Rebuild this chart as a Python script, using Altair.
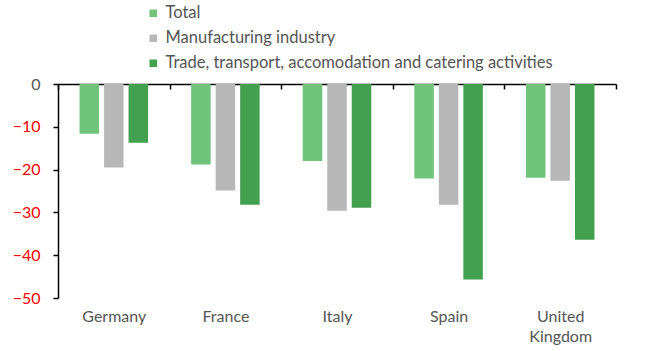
import altair as alt
import pandas as pd

countries = ["Germany", "France", "Italy", "Spain", "United Kingdom"]
series = ["Total", "Manufacturing industry", "Trade, transport, accomodation and catering activities"]
total = [-11.6, -18.8, -18.0, -22.1, -21.9]
manufacturing = [-19.5, -24.9, -29.6, -28.2, -22.6]
trade = [-13.7, -28.2, -28.9, -45.7, -36.4]
colors = ["#70c37b", "#b7b7b7", "#43a04f"]
y_ticks = [0, -10, -20, -30, -40, -50]

rows = []
for i, c in enumerate(countries):
    for s, vals in zip(series, [total, manufacturing, trade]):
        rows.append({"country": c, "series": s, "value": vals[i]})
df = pd.DataFrame(rows)

FONT = "Lato"
PLOT_H = 214

x_enc = alt.X(
    "country:N",
    sort=countries,
    scale=alt.Scale(paddingInner=0, paddingOuter=0),
    title=None,
    axis=alt.Axis(
        orient="bottom", offset=-PLOT_H, tickBand="extent",
        domainColor="#000000", tickColor="#000000", tickSize=5,
        labelAngle=0, labelFont=FONT, labelFontSize=16, labelColor="#555555",
        labelPadding=219, labelLineHeight=20, labelBaseline="top",
        labelExpr="datum.label == 'United Kingdom' ? ['United', 'Kingdom'] : datum.label",
    ),
)

y_enc = alt.Y(
    "value:Q",
    scale=alt.Scale(domain=[-50, 0], nice=False),
    title=None,
    axis=alt.Axis(
        values=y_ticks, grid=False, domainColor="#000000", tickColor="#000000",
        tickSize=5, labelPadding=13, labelFont=FONT, labelFontSize=16,
        labelColor=alt.ExprRef("datum.value == 0 ? '#555555' : '#ff0000'"),
    ),
)

chart = alt.Chart(df).mark_bar().encode(
    x=x_enc,
    xOffset=alt.XOffset("series:N", sort=series,
                        scale=alt.Scale(paddingInner=0.204, paddingOuter=0.88)),
    y=y_enc,
    color=alt.Color(
        "series:N",
        sort=series,
        scale=alt.Scale(domain=series, range=colors),
        legend=alt.Legend(
            title=None, orient="none", legendX=87, legendY=-79, direction="vertical",
            symbolType="square", symbolSize=56, symbolStrokeWidth=0,
            labelFont=FONT, labelFontSize=16.5, labelColor="#555555", labelLimit=0,
            rowPadding=8, labelOffset=4, padding=0,
        ),
    ),
).properties(
    width=558, height=PLOT_H,
    autosize=alt.AutoSizeParams(type="none"),
    padding={"left": 58, "top": 84, "right": 33, "bottom": 53},
).configure_view(stroke=None).configure_axis(domainWidth=1.5, tickWidth=1.5)

chart.save("out.html", embed_options={"renderer": "svg", "actions": False})
